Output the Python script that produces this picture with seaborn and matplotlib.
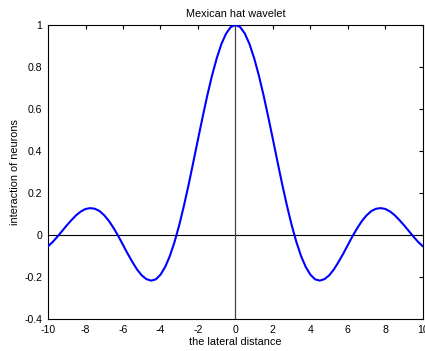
import pandas as pd
import seaborn as sns
import matplotlib.pyplot as plt

# values
x_vals = [i / 4 for i in range(-40, 41)]
y_right = [1.000, 0.990, 0.959, 0.909, 0.841, 0.759, 0.665, 0.562, 0.455, 0.346,
           0.239, 0.139, 0.047, -0.033, -0.100, -0.152, -0.189, -0.211, -0.217, -0.210,
           -0.192, -0.164, -0.128, -0.089, -0.047, -0.005, 0.033, 0.067, 0.094, 0.114,
           0.125, 0.128, 0.124, 0.112, 0.094, 0.071, 0.046, 0.019, -0.008, -0.033, -0.054]
y_left = [-0.054, -0.033, -0.008, 0.019, 0.046, 0.071, 0.094, 0.112, 0.124, 0.128,
          0.125, 0.114, 0.094, 0.067, 0.033, -0.005, -0.047, -0.089, -0.128, -0.164,
          -0.192, -0.210, -0.217, -0.211, -0.189, -0.152, -0.100, -0.033, 0.047, 0.139,
          0.239, 0.346, 0.455, 0.562, 0.665, 0.759, 0.841, 0.909, 0.959, 0.990]
y_vals = y_left + y_right
x_ticks = [-10, -8, -6, -4, -2, 0, 2, 4, 6, 8, 10]
y_ticks = [-0.4, -0.2, 0, 0.2, 0.4, 0.6, 0.8, 1]

df = pd.DataFrame({"x": x_vals, "y": y_vals})

sns.set_style("white")
plt.rcParams['font.family'] = ['Liberation Sans', 'DejaVu Sans']
plt.rcParams['text.color'] = 'black'
plt.rcParams['axes.labelcolor'] = 'black'

fig = plt.figure(figsize=(4.25, 3.51), dpi=100)
ax = fig.add_axes([0.113, 0.091, 0.882, 0.838])

ax.axhline(0, color="black", lw=0.8, zorder=1)
ax.axvline(0, color="#444444", lw=0.9, zorder=1)
sns.lineplot(data=df, x="x", y="y", color="#0000ff", lw=1.5, ax=ax, zorder=3)

ax.set_xlim(-10, 10)
ax.set_ylim(-0.4, 1)
ax.set_xticks(x_ticks)
ax.set_xticklabels([str(t) for t in x_ticks])
ax.set_yticks(y_ticks)
ax.set_yticklabels(["-0.4", "-0.2", "0", "0.2", "0.4", "0.6", "0.8", "1"])
ax.tick_params(direction="in", length=3, width=0.8, labelsize=7.6, colors="black",
               top=True, right=True, pad=4)
for s in ax.spines.values():
    s.set_color("black")
    s.set_linewidth(0.8)

ax.set_title("Mexican hat wavelet", fontsize=7.8, pad=6, color="black")
ax.set_xlabel("the lateral distance", fontsize=7.8, labelpad=2)
ax.set_ylabel("interaction of neurons", fontsize=7.8, labelpad=3)

fig.savefig("out.png", dpi=100)
